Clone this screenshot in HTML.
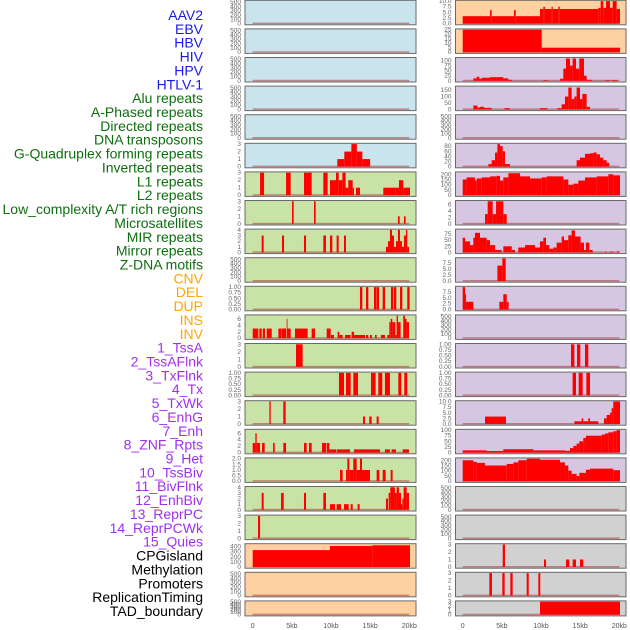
<!DOCTYPE html>
<html><head><meta charset="utf-8">
<style>
body{margin:0;background:#fff;width:630px;height:630px;overflow:hidden}
svg{display:block}
</style></head>
<body>
<svg id="chart" width="630" height="630" viewBox="0 0 630 630" xmlns="http://www.w3.org/2000/svg">
<g id="labels"></g><g id="panels"></g><g id="xaxes"></g>
</svg>
<script>
const trackLabels=["AAV2","EBV","HBV","HIV","HPV","HTLV-1","Alu repeats","A-Phased repeats","Directed repeats","DNA transposons","G-Quadruplex forming repeats","Inverted repeats","L1 repeats","L2 repeats","Low_complexity A/T rich regions","Microsatellites","MIR repeats","Mirror repeats","Z-DNA motifs","CNV","DEL","DUP","INS","INV","1_TssA","2_TssAFlnk","3_TxFlnk","4_Tx","5_TxWk","6_EnhG","7_Enh","8_ZNF_Rpts","9_Het","10_TssBiv","11_BivFlnk","12_EnhBiv","13_ReprPC","14_ReprPCWk","15_Quies","CPGisland","Methylation","Promoters","ReplicationTiming","TAD_boundary"];
const labelGroups=[6,13,5,15,5];
const xTickValues=[0,5,10,15,20];
const xTickLabels=["0","5kb","10kb","15kb","20kb"];
const ticksEmpty=[0,100,200,300,400,500];
const ticks3=[0,1,2,3];
const ticks4=[0,1,2,3,4];
const ticksFrac=[0,0.25,0.5,0.75,1];
const ticks6=[0,2,4,6];
const ticks2=[0,0.5,1,1.5,2];
// left column bars [startKb,endKb,value]
const L5=[[10.8,11.7,1],[11.7,12.6,2],[12.6,13.3,3],[13.3,14.0,2],[14.0,15.0,1]];
const L6=[[0.94,1.45,3],[4.26,4.85,3],[6.55,7.53,3],[9.02,9.57,3],[9.87,10.64,2],[10.64,10.98,3],[10.98,11.45,2],[11.45,11.87,3],[11.87,12.21,1],[12.21,12.77,2],[12.77,12.94,1],[13.19,13.7,1],[16.68,18.26,1],[18.26,18.68,1],[18.68,19.23,2],[19.23,20.09,1]];
const L7=[[5.02,5.23,3],[7.83,8.04,3],[18.55,18.77,1],[19.32,19.53,1]];
const L8=[[1.15,1.4,3],[3.74,4.0,3],[6.55,6.81,3],[9.02,9.36,3],[9.87,10.17,3],[10.72,10.98,3],[11.66,11.91,3],[17.02,17.28,1],[17.28,17.53,2],[17.53,17.79,4],[17.79,18.04,3],[18.04,18.3,1],[18.3,18.55,2],[18.55,18.81,4],[18.81,19.06,2],[19.06,19.32,1],[19.32,19.57,3],[19.57,19.74,4],[19.74,19.96,1]];
const L10=[[13.7,14.0,1],[14.47,14.77,1],[15.49,15.79,1],[15.83,16.13,1],[16.6,16.9,1],[17.66,17.96,1],[18.04,18.34,1],[18.81,19.11,1],[19.74,20.04,1]];
const L11=[[0,0.72,3],[0.85,1.15,3],[1.28,1.57,3],[1.79,2.43,3],[3.28,3.7,3],[3.74,4.26,3],[4.34,4.43,6],[4.43,4.85,3],[5.4,7.02,3],[7.53,7.96,3],[9.45,9.96,3],[10.0,10.38,1],[10.85,11.06,2],[11.06,11.49,1],[11.79,12.51,1],[12.64,12.94,2],[12.94,13.49,1],[13.49,14.34,1],[14.47,14.77,1],[14.98,15.23,1],[15.62,15.83,1],[16.38,16.89,1],[17.19,17.45,1],[17.45,17.62,5],[17.62,17.83,6],[17.83,18.21,5],[18.21,18.38,1],[18.38,18.55,7],[18.55,18.89,5],[19.23,19.45,7],[19.45,19.66,6],[19.66,19.96,5]];
const L12=[[5.53,6.38,3]];
const L13=[[11.02,11.66,1],[11.91,12.51,1],[12.85,13.45,1],[15.11,15.7,1],[16.04,16.55,1],[16.89,17.53,1],[18.6,18.98,1],[19.36,19.74,1]];
const L14=[[2.13,2.3,3],[3.91,4.21,3],[14.09,14.34,1],[14.89,15.19,1],[15.83,16.09,1]];
const L15=[[0,0.34,3],[0.34,0.51,6],[0.51,0.94,3],[1.19,1.53,3],[2.6,2.81,3],[3.91,4.26,3],[6.55,6.89,3],[7.19,7.53,3],[8.85,9.36,3],[9.45,9.79,3],[9.79,10.09,1],[10.09,10.64,1],[10.72,11.49,1],[11.49,12.43,1],[12.94,15.62,1],[15.62,16.26,1],[16.89,17.53,1],[17.74,18.3,1],[19.15,19.96,1]];
const L16=[[11.15,11.49,1],[11.91,12.09,1],[12.09,12.34,2],[12.34,12.85,1],[12.85,13.28,2],[13.28,13.7,1],[13.7,13.96,2],[13.96,14.98,1],[15.83,16.17,1],[16.6,16.98,1],[17.62,17.87,1]];
const L17=[[1.15,1.4,3],[3.62,3.96,3],[6.55,6.81,3],[9.02,9.36,3],[9.87,10.51,1],[10.72,11.28,1],[11.66,12.26,1],[12.51,12.77,1],[13.4,13.66,1],[17.02,17.28,2],[17.36,17.57,3],[17.57,18.17,4],[18.17,18.38,3],[18.38,18.68,4],[18.68,18.94,3],[18.94,19.11,1],[19.11,19.28,2],[19.28,19.66,4],[19.66,19.96,3]];
const L18=[[0.68,0.94,3]];
const L19=[[0,9.87,330],[9.87,15.28,410],[15.28,20.09,425]];
// right column bars
const R0=[[0,3.49,3.3],[3.49,3.7,6],[3.7,6.55,3.3],[6.55,6.77,6],[6.77,9.87,3.3],[9.87,10.3,6.5],[10.3,10.5,7.5],[10.5,11.36,6.5],[11.36,11.5,7.5],[11.5,12.21,6.5],[12.21,12.4,7.5],[12.4,17.32,6.5],[17.32,17.62,7],[17.62,17.96,10],[17.96,18.3,7],[18.3,18.81,10],[18.81,19.15,7],[19.15,19.66,10],[19.66,20.09,6.5]];
const R1=[[0,10.09,25],[10.09,20.09,5]];
const R2=[[1.36,1.79,12],[1.79,2.13,20],[2.13,2.43,10],[2.43,3.49,15],[3.49,5.19,18],[5.19,5.83,12],[5.83,6.26,5],[10.3,10.85,3],[12.43,12.85,10],[12.85,13.19,60],[13.19,13.7,110],[13.7,14.04,75],[14.04,14.47,110],[14.47,14.89,60],[14.89,15.49,110],[15.49,15.83,25],[15.83,16.47,5],[18.17,18.81,3],[19.02,19.74,3]];
const R3=[[1.36,1.87,30],[1.87,2.21,15],[2.21,2.72,20],[2.72,3.7,12],[5.32,6.04,10],[9.87,10.81,10],[12.09,12.64,10],[12.64,13.06,40],[13.06,13.49,100],[13.49,13.91,170],[13.91,14.26,80],[14.26,14.55,100],[14.55,14.98,170],[14.98,15.28,80],[15.28,15.83,120],[15.83,16.26,20]];
const R5=[[3.28,3.7,10],[3.7,4.13,25],[4.13,4.43,55],[4.43,4.77,88],[4.77,5.11,80],[5.11,5.4,60],[5.4,6.04,10],[14.55,14.98,25],[14.98,15.62,35],[15.62,16.26,50],[16.26,16.68,52],[16.68,17.11,55],[17.11,17.53,48],[17.53,17.96,35],[17.96,18.38,25],[18.38,18.72,15]];
const R6=[[0,0.5,150],[0.5,1.57,170],[1.57,1.79,140],[1.79,2.43,160],[2.43,3.49,170],[3.49,4.34,180],[4.34,4.77,185],[4.77,5.19,140],[5.19,5.83,170],[5.83,7.32,210],[7.32,8.6,180],[8.6,10.09,160],[10.09,10.72,170],[10.72,12.85,180],[12.85,13.49,150],[13.49,14.13,100],[14.13,14.77,110],[14.77,15.62,140],[15.62,17.11,170],[17.11,18.6,180],[18.6,19.23,200],[19.23,20.09,190]];
const R7=[[2.85,3.19,3],[3.19,3.83,7],[3.83,4.26,3],[4.26,5.19,7],[5.19,5.62,3]];
const R8=[[0,0.3,60],[0.3,0.94,45],[0.94,1.36,30],[1.36,1.57,60],[1.57,2.21,80],[2.21,3.06,60],[3.06,3.49,50],[3.49,4.13,30],[4.13,4.43,10],[4.43,4.98,10],[5.19,6.26,25],[6.26,6.68,10],[7.1,7.96,20],[7.96,9.23,30],[9.23,9.87,20],[9.87,10.3,45],[10.3,10.64,60],[10.64,11.06,30],[11.06,11.57,15],[11.57,12.0,20],[12.0,12.64,40],[12.64,12.94,65],[12.94,13.49,50],[13.49,13.91,70],[13.91,14.34,90],[14.34,15.06,65],[15.06,15.49,40],[15.49,15.74,10],[15.74,16.17,40],[16.17,16.6,10],[18.17,18.38,3],[18.81,19.23,3],[19.74,20.0,5]];
const R9=[[4.43,5.06,6.5],[5.06,5.49,9.5]];
const R10=[[0,0.3,9.5],[0.3,0.43,6.5],[0.43,1.36,3.3],[4.68,5.19,3.3],[5.19,5.62,6.5],[5.62,5.87,3.3]];
const R12=[[13.83,14.26,1],[14.6,15.02,1],[15.62,16.04,1]];
const R13=[[14.04,14.47,1],[14.81,15.32,1],[15.79,16.26,1]];
const R14=[[2.85,5.53,3.3],[14.26,15.19,1.2],[15.19,15.4,2.5],[15.4,16.04,1.2],[16.04,16.26,2.5],[16.26,17.32,1.2],[18.04,18.38,2.5],[18.38,18.81,4],[18.81,19.02,5],[19.02,19.23,7],[19.23,20.09,10]];
const R15=[[0,3.06,10],[3.06,5.19,7],[5.19,9.02,15],[9.02,13.06,10],[13.06,13.7,8],[13.7,14.13,20],[14.13,14.55,30],[14.55,14.89,40],[14.89,15.4,50],[15.4,15.74,65],[15.74,16.26,75],[16.26,17.74,75],[17.74,18.17,80],[18.17,18.6,85],[18.6,19.23,90],[19.23,19.66,95],[19.66,20.09,100]];
const R16=[[0,1.36,200],[1.36,1.79,185],[1.79,2.85,175],[2.85,5.62,150],[5.62,6.47,165],[6.47,7.1,180],[7.1,8.17,200],[8.17,9.87,215],[9.87,12.43,205],[12.43,13.06,180],[13.06,13.49,150],[13.49,13.91,100],[13.91,14.55,70],[14.55,14.89,50],[14.89,15.74,80],[15.74,16.26,110],[16.26,19.23,120],[19.23,20.09,105]];
const R19=[[5.11,5.4,3],[10.38,10.64,1],[13.19,13.62,1],[14.04,14.47,1],[14.98,15.4,1]];
const R20=[[3.4,3.74,3],[5.06,5.36,3],[6.08,6.38,3],[8.17,8.43,3],[9.66,9.91,3]];
const R21=[[9.87,20.09,3]];
const NONE=[];
const leftSpecs=[
 ["blue",NONE,520,ticksEmpty],["blue",NONE,520,ticksEmpty],["blue",NONE,520,ticksEmpty],["blue",NONE,520,ticksEmpty],["blue",NONE,520,ticksEmpty],
 ["blue",L5,3,ticks3],["green",L6,3,ticks3],["green",L7,3,ticks3],["green",L8,4,ticks4],["green",NONE,520,ticksEmpty],
 ["green",L10,1,ticksFrac],["green",L11,7,ticks6],["green",L12,3,ticks3],["green",L13,1,ticksFrac],["green",L14,3,ticks3],
 ["green",L15,7,ticks6],["green",L16,2,ticks2],["green",L17,4,ticks4],["green",L18,3,ticks3],["orange",L19,440,[0,100,200,300,400]],
 ["orange",NONE,520,ticksEmpty],["orange",NONE,520,ticksEmpty]];
const rightSpecs=[
 ["orange",R0,10,[0,2.5,5,7.5,10]],["orange",R1,25,[0,5,10,15,20,25]],["purple",R2,111,[0,25,50,75,100]],["purple",R3,175,[0,50,100,150]],["purple",NONE,520,ticksEmpty],
 ["purple",R5,88,[0,20,40,60,80]],["purple",R6,215,[0,50,100,150,200]],["purple",R7,7,ticks6],["purple",R8,92,[0,25,50,75]],["purple",R9,9.5,[0,2.5,5,7.5]],
 ["purple",R10,9.5,[0,2.5,5,7.5]],["purple",NONE,520,ticksEmpty],["purple",R12,1,ticksFrac],["purple",R13,1,ticksFrac],["purple",R14,10,[0,2.5,5,7.5,10]],
 ["purple",R15,100,[0,25,50,75,100]],["purple",R16,215,[0,50,100,150,200]],["gray",NONE,520,ticksEmpty],["gray",NONE,520,ticksEmpty],["gray",R19,3,ticks3],
 ["gray",R20,3,ticks3],["gray",R21,3,ticks3]];
const bgColors={blue:"#c9e4ec",green:"#c9e2a5",orange:"#ffd1a0",purple:"#d6c6e1",gray:"#d1d1d1"};
const labelColors=["#1a1ae6","#0f6e0f","#ffa500","#a030ee","#000000"];
const NS="http://www.w3.org/2000/svg";
function mk(tag,attrs,parent){const e=document.createElementNS(NS,tag);for(const k in attrs)e.setAttribute(k,attrs[k]);parent.appendChild(e);return e;}
const labelsG=document.getElementById('labels');
let gi=0,gc=0;
trackLabels.forEach((t,i)=>{
 while(gc>=labelGroups[gi]){gi++;gc=0;}
 gc++;
 const el=mk('text',{x:203,y:15+i*13.86+5,'text-anchor':'end','font-family':'Liberation Sans, sans-serif','font-size':14,fill:labelColors[gi]},labelsG);
 el.textContent=t;
 
 
});
const panelsG=document.getElementById('panels');
function fmt(v,ticks){const frac=ticks.some(x=>x%1!==0);if(!frac)return String(v);const d=ticks.some(x=>Math.round(x*100)%25!==0||(x*10)%1!==0&&ticks.includes(0.25))?2:1;return ticks.includes(0.25)?v.toFixed(2):v.toFixed(1);}
function drawPanel(spec,row,col){
 const [bg,bars,ymax,ticks]=spec;
 const px=col===0?245:455.5, pw=col===0?171:170.5;
 const x0=col===0?252.7:462.7, xs=(col===0?409.3-252.7:619.3-462.7)/20;
 const top=0.3+row*28.6, h=row===21?15:24.5;
 const base=top+h-1.2, span=h-2;
 const xK=k=>x0+k*xs, yV=v=>base-(v/ymax)*span;
 const g=mk('g',{},panelsG);
 
 
 mk('rect',{x:px,y:top,width:pw,height:h,fill:bgColors[bg],stroke:'#6a6a6a','stroke-width':1},g);
 mk('rect',{x:xK(0),y:base-1,width:xK(20)-xK(0),height:1.5,fill:'rgba(170,60,60,0.55)'},g);
 bars.forEach(b=>{
  const r=mk('rect',{x:xK(b[0]),y:yV(b[2]),width:Math.max(0.8,xK(b[1])-xK(b[0])),height:base-yV(b[2]),fill:'#ff0000'},g);
  
  
 });
 ticks.forEach(v=>{
  const t=mk('text',{x:px-4,y:yV(v)+2,'text-anchor':'end','font-family':'Liberation Sans, sans-serif','font-size':6.5,fill:'#666'},g);
  t.textContent=fmt(v,ticks);
  
  
 });
}
leftSpecs.forEach((s,i)=>drawPanel(s,i,0));
rightSpecs.forEach((s,i)=>drawPanel(s,i,1));
const xg=document.getElementById('xaxes');
[[252.7,409.3],[462.7,619.3]].forEach(([a,b])=>{
 xTickValues.forEach((v,i)=>{
  const t=mk('text',{x:a+v*(b-a)/20,y:628,'text-anchor':'middle','font-family':'Liberation Sans, sans-serif','font-size':7,fill:'#555'},xg);
  t.textContent=xTickLabels[i];
  
  
 });
});
</script>
</body></html>
